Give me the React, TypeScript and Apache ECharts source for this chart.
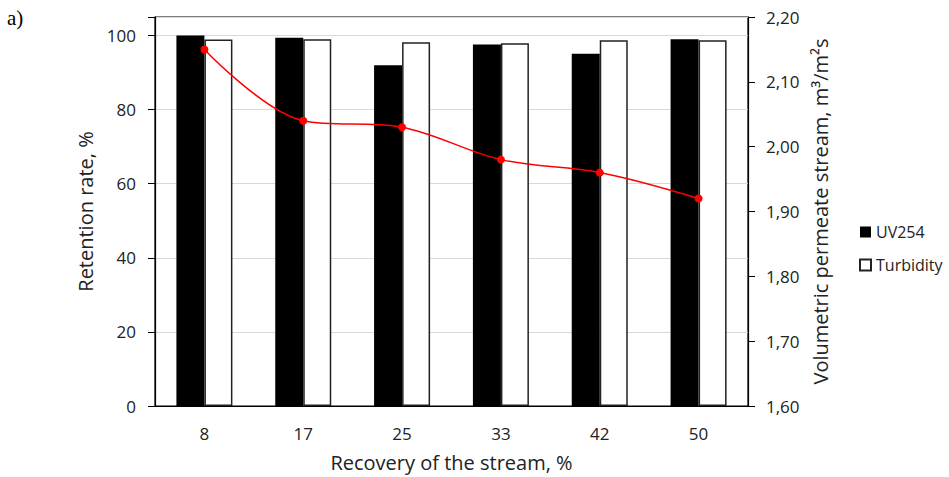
import React, { useEffect, useRef } from "react";
import * as echarts from "echarts";

const categories = ["8", "17", "25", "33", "42", "50"];
const uv254 = [100, 99.4, 92.0, 97.6, 95.1, 99.0];
const turbidity = [98.9, 99.0, 98.2, 97.9, 98.7, 98.7];
const permeateFlow = [2.15, 2.04, 2.03, 1.98, 1.96, 1.92];

const FONT = "'Open Sans', 'Noto Sans', sans-serif";
const TXT = "#222";

export default function App() {
  const ref = useRef<HTMLDivElement>(null);
  useEffect(() => {
    document.body.style.margin = "0";
    const chart = echarts.init(ref.current!, null, { renderer: "svg" });
    chart.setOption({
      animation: false,
      backgroundColor: "#fff",
      textStyle: { fontFamily: FONT, color: TXT },
      graphic: [
        {
          type: "text",
          left: 7,
          top: 7,
          style: { text: "a)", fontFamily: "'Liberation Serif', serif", fontSize: 21, fill: "#000" },
        },
      ],
      grid: {
        left: 155,
        right: 201,
        top: 17,
        bottom: 71,
        show: true,
        borderColor: "#000",
        borderWidth: 1.2,
      },
      legend: {
        orient: "vertical",
        left: 854,
        top: 219,
        itemWidth: 11,
        itemHeight: 11,
        itemGap: 17,
        icon: "rect",
        textStyle: { fontFamily: FONT, fontSize: 16, color: TXT },
        data: ["UV254", "Turbidity"],
      },
      xAxis: {
        type: "category",
        data: categories,
        name: "Recovery of the stream, %",
        nameLocation: "middle",
        nameGap: 46,
        nameTextStyle: { fontFamily: FONT, fontSize: 20, color: TXT },
        axisLine: { lineStyle: { color: "#000", width: 1.2 } },
        axisTick: { show: false },
        axisLabel: { fontFamily: FONT, fontSize: 17, color: TXT, margin: 19 },
      },
      yAxis: [
        {
          type: "value",
          min: 0,
          max: 105,
          interval: 20,
          name: "Retention rate, %",
          nameLocation: "middle",
          nameGap: 55,
          nameTextStyle: { fontFamily: FONT, fontSize: 20, color: TXT },
          axisLine: { show: true, lineStyle: { color: "#000", width: 1.2 } },
          axisTick: { show: true, length: 7, lineStyle: { color: "#000" } },
          axisLabel: {
            fontFamily: FONT,
            fontSize: 17,
            color: TXT,
            margin: 19,
            formatter: (v: number) => (v % 20 === 0 ? String(v) : ""),
          },
          splitLine: { show: true, lineStyle: { color: "#d9d9d9", width: 1.2 } },
        },
        {
          type: "value",
          min: 1.6,
          max: 2.2,
          interval: 0.1,
          name: "Volumetric permeate stream, m³/m²s",
          nameLocation: "middle",
          nameGap: 61,
          nameTextStyle: { fontFamily: FONT, fontSize: 20, color: TXT },
          axisLine: { show: true, lineStyle: { color: "#000", width: 1.2 } },
          axisTick: { show: true, length: 7, lineStyle: { color: "#000" } },
          axisLabel: {
            fontFamily: FONT,
            fontSize: 17,
            color: TXT,
            margin: 18,
            formatter: (v: number) => v.toFixed(2).replace(".", ","),
          },
          splitLine: { show: false },
        },
      ],
      series: [
        {
          name: "UV254",
          type: "bar",
          data: uv254,
          barWidth: 28,
          barGap: "0%",
          itemStyle: { color: "#000" },
        },
        {
          name: "Turbidity",
          type: "bar",
          data: turbidity,
          barWidth: 28,
          barGap: "0%",
          itemStyle: { color: "#fff", borderColor: "#222", borderWidth: 1.5 },
        },
        {
          name: "Flow",
          type: "line",
          yAxisIndex: 1,
          data: permeateFlow,
          smooth: 0.35,
          symbol: "circle",
          symbolSize: 8,
          lineStyle: { color: "#ff0000", width: 1.5 },
          itemStyle: { color: "#ff0000" },
          z: 5,
        },
      ],
    });
    return () => chart.dispose();
  }, []);
  return <div ref={ref} style={{ width: 949, height: 477 }} />;
}
